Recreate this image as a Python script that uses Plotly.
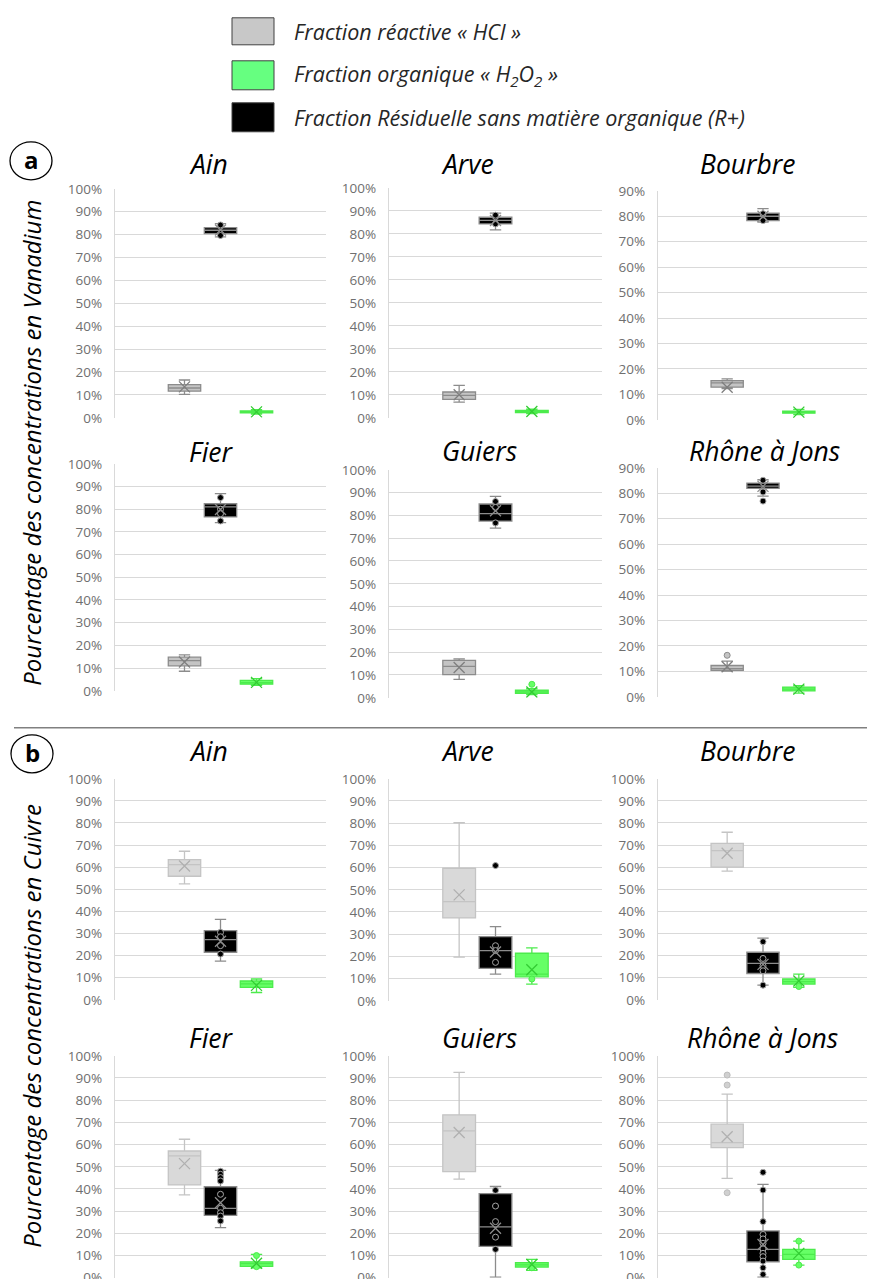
import plotly.graph_objects as go

# measured page mapping: window_y = SCALE * figure_y + TOP ; window_x = figure_x + LEFT
LEFT, TOP, SCALE = 8, 16.2, 0.986
W, H = 875 - LEFT, 1283

SITES = ["Ain", "Arve", "Bourbre", "Fier", "Guiers", "Rhône à Jons"]
CATS = ["HCl", "R+", "H2O2"]  # plotting order (left to right)

# ---------------- Vanadium ----------------
V_HCL = dict(low=[10.2, 6.8, 12.3, 8.6, 8.1, 10.1],
             q1=[11.6, 8.0, 12.8, 11.0, 10.2, 10.4],
             med=[13.0, 9.7, 14.5, 13.3, 13.8, 11.1],
             q3=[14.5, 11.2, 15.4, 14.8, 16.4, 12.3],
             high=[16.5, 14.1, 16.1, 15.8, 17.1, 14.0],
             mean=[13.5, 10.0, 12.8, 12.7, 13.3, 11.8])
V_HCL_PTS = [[], [], [], [], [], [16.3]]

V_RES = dict(low=[79.0, 81.7, 77.7, 74.1, 74.4, 78.9],
             q1=[80.4, 84.3, 78.3, 76.6, 77.5, 81.9],
             med=[81.9, 85.8, 80.0, 81.0, 80.8, 82.8],
             q3=[83.0, 87.2, 81.2, 82.4, 85.0, 84.0],
             high=[84.8, 89.0, 83.0, 86.9, 88.3, 85.3],
             mean=[82.0, 85.8, 80.0, 79.9, 82.0, 82.7])
V_RES_PTS = [[84.2, 79.6], [88.1, 84.3], [81.0, 78.3],
             [85.1, 80.0, 78.0, 74.8], [86.1, 83.5, 76.7], [85.1, 80.5, 76.9]]

V_ORG = dict(low=[1.6, 1.8, 2.0, 2.4, 1.4, 1.4],
             q1=[2.1, 2.3, 2.6, 2.9, 1.9, 2.3],
             med=[2.5, 2.7, 3.0, 3.6, 2.6, 3.0],
             q3=[3.0, 3.2, 3.4, 4.6, 3.3, 3.8],
             high=[3.6, 3.8, 4.1, 5.4, 4.0, 4.4],
             mean=[2.6, 2.7, 3.0, 3.7, 2.5, 3.0])
V_ORG_PTS = [[], [], [], [], [5.9], []]

# ---------------- Cuivre ----------------
C_HCL = dict(low=[52.4, 19.7, 58.2, 37.3, 44.4, 44.8],
             q1=[55.9, 37.3, 60.0, 41.8, 47.8, 58.6],
             med=[61.2, 44.7, 67.5, 54.9, 66.2, 60.9],
             q3=[63.4, 59.7, 70.8, 57.1, 73.4, 69.2],
             high=[67.2, 80.2, 75.8, 62.4, 92.5, 82.7],
             mean=[60.5, 47.7, 66.3, 51.4, 65.4, 63.5])
C_HCL_PTS = [[], [], [], [], [], [91.3, 86.8, 38.3]]

C_RES = dict(low=[17.5, 12.0, 6.6, 22.6, 0.3, 0.3],
             q1=[21.5, 14.6, 11.9, 28.1, 14.1, 7.2],
             med=[27.2, 22.6, 16.5, 31.3, 22.9, 12.8],
             q3=[31.3, 28.9, 21.5, 41.0, 37.9, 21.1],
             high=[36.4, 33.4, 27.9, 48.4, 41.1, 42.1],
             mean=[26.5, 22.0, 16.0, 33.8, 22.3, 15.0])
C_RES_PTS = [[30.5, 28.5, 24.5, 20.7],
             [60.9, 24.8, 22.6, 17.3],
             [26.3, 18.7, 15.4, 13.1, 6.6],
             [48.0, 46.6, 45.1, 43.6, 37.6, 31.3, 29.3, 27.8, 25.6],
             [39.4, 32.3, 25.3, 18.3, 12.8],
             [47.5, 39.5, 25.3, 19.5, 17.5, 15.5, 13.0, 11.0, 9.5, 7.5, 4.5, 1.5]]

C_ORG = dict(low=[3.3, 7.5, 5.6, 4.5, 3.3, 5.7],
             q1=[5.6, 10.8, 7.1, 5.1, 4.8, 8.3],
             med=[7.2, 12.0, 8.2, 6.4, 5.8, 10.5],
             q3=[8.5, 21.4, 9.4, 7.2, 6.8, 12.8],
             high=[9.4, 23.8, 11.6, 10.5, 8.3, 16.5],
             mean=[6.5, 14.0, 8.5, 6.5, 6.0, 11.0])
C_ORG_PTS = [[], [9.8], [6.0], [10.0, 5.0], [4.5], [16.5, 5.7]]

Y_MAX_V = [100, 100, 90, 100, 100, 90]
Y_MAX_C = [100, 100, 100, 100, 100, 100]

LEGEND_TEXT = ["Fraction réactive « HCl »",
               "Fraction organique « H<sub>2</sub>O<sub>2</sub> »",
               "Fraction Résiduelle sans matière organique (R+)"]
YTITLES = ["Pourcentage des concentrations en Vanadium",
           "Pourcentage des concentrations en Cuivre"]

# ---------------- styles ----------------
FONT = "Open Sans"
GREEN = "#66FF66"
STYLE_A = {
    "HCl": dict(fill="#C4C4C4", line="#8C8C8C", pfill="#C4C4C4", pline="#8C8C8C", mean="#7F7F7F"),
    "R+": dict(fill="#000000", line="#8C8C8C", pfill="#000000", pline="#A6A6A6", mean="#8C8C8C"),
    "H2O2": dict(fill=GREEN, line="#4CEB4C", pfill=GREEN, pline="#4CEB4C", mean="#33CC33"),
}
STYLE_B = {
    "HCl": dict(fill="#D9D9D9", line="#C4C4C4", pfill="#D0D0D0", pline="#BDBDBD", mean="#B0B0B0"),
    "R+": dict(fill="#000000", line="#8C8C8C", pfill="#000000", pline="#A6A6A6", mean="#8C8C8C"),
    "H2O2": dict(fill=GREEN, line="#4CEB4C", pfill=GREEN, pline="#4CEB4C", mean="#33CC33"),
}


def px(x):
    return (x - LEFT) / W


def py(y):
    fy = (y - TOP) / SCALE
    return 1 - fy / H


# panel geometry (target pixels in the window)
COLS_X = [(115, 326), (389, 602), (658, 868)]
ROWS_Y = [
    [(188, 417), (187, 417), (190, 419), (463, 690), (469, 697), (467, 696)],
    [(778, 999), (778, 1000), (778, 999), (1055, 1277), (1055, 1277), (1055, 1277)],
]
TITLE_POS = [
    [(208, 163), (467, 163), (748, 163), (211, 451), (479, 450), (764, 450)],
    [(208, 750), (467, 750), (748, 750), (211, 1037), (479, 1037), (762, 1037)],
]

fig = go.Figure()
layout = dict(width=W, height=H, margin=dict(l=0, r=0, t=0, b=0),
              plot_bgcolor="white", paper_bgcolor="white", showlegend=False)
annotations, shapes = [], []

groups = [
    ([("HCl", V_HCL, V_HCL_PTS), ("R+", V_RES, V_RES_PTS), ("H2O2", V_ORG, V_ORG_PTS)], Y_MAX_V, STYLE_A),
    ([("HCl", C_HCL, C_HCL_PTS), ("R+", C_RES, C_RES_PTS), ("H2O2", C_ORG, C_ORG_PTS)], Y_MAX_C, STYLE_B),
]

ax = 0
for g, (series, ymaxes, style) in enumerate(groups):
    for i, site in enumerate(SITES):
        ax += 1
        xa = "x" if ax == 1 else f"x{ax}"
        ya = "y" if ax == 1 else f"y{ax}"
        x0, x1 = COLS_X[i % 3]
        ytop, ybot = ROWS_Y[g][i]
        for cat, st, pts in series:
            s = style[cat]
            fig.add_trace(go.Box(
                x=[cat], q1=[st["q1"][i]], median=[st["med"][i]], q3=[st["q3"][i]],
                lowerfence=[st["low"][i]], upperfence=[st["high"][i]],
                fillcolor=s["fill"], line=dict(color=s["line"], width=1.3),
                whiskerwidth=0.35, width=0.9, boxpoints=False,
                xaxis=xa, yaxis=ya, hoverinfo="skip"))
            if pts[i]:
                fig.add_trace(go.Scatter(
                    x=[cat] * len(pts[i]), y=pts[i], mode="markers",
                    marker=dict(symbol="circle", size=6, color=s["pfill"],
                                line=dict(color=s["pline"], width=1)),
                    xaxis=xa, yaxis=ya, hoverinfo="skip"))
            fig.add_trace(go.Scatter(
                x=[cat], y=[st["mean"][i]], mode="markers",
                marker=dict(symbol="x-thin-open", size=11, color=s["mean"],
                            line=dict(color=s["mean"], width=1.3)),
                xaxis=xa, yaxis=ya, hoverinfo="skip"))
        layout[f"xaxis{'' if ax == 1 else ax}"] = dict(
            domain=[px(x0), px(x1)], anchor=ya, type="category",
            categoryorder="array", categoryarray=CATS, range=[-1.93, 3.93],
            showticklabels=False, showgrid=False, zeroline=False, showline=False)
        layout[f"yaxis{'' if ax == 1 else ax}"] = dict(
            domain=[py(ybot), py(ytop)], anchor=xa, range=[0, ymaxes[i]],
            dtick=10, ticksuffix="%", showgrid=True, gridcolor="#D9D9D9", gridwidth=1.3,
            zeroline=False, showline=True, linecolor="#D9D9D9", linewidth=1.3,
            ticks="", ticklabelstandoff=9,
            tickfont=dict(family=FONT, size=13.5, color="#6F6F6F"))
        tx, ty = TITLE_POS[g][i]
        annotations.append(dict(x=px(tx), y=py(ty), xref="paper", yref="paper",
                                text=f"<i>{site}</i>", showarrow=False,
                                font=dict(family=FONT, size=26.5, color="#000000"),
                                xanchor="center", yanchor="middle"))

# y-axis titles
for txt, yc in zip(YTITLES, [442, 1025]):
    annotations.append(dict(x=px(32), y=py(yc), xref="paper", yref="paper",
                            text=f"<i>{txt}</i>", showarrow=False, textangle=-90,
                            font=dict(family=FONT, size=24, color="#000000"),
                            xanchor="center", yanchor="middle"))

# panel letters in circles
for letter, (cx, cy) in zip(["a", "b"], [(31, 160), (32, 753)]):
    shapes.append(dict(type="circle", xref="paper", yref="paper",
                       x0=px(cx - 21), x1=px(cx + 21), y0=py(cy + 19), y1=py(cy - 19),
                       line=dict(color="#000000", width=1.3), fillcolor="white"))
    annotations.append(dict(x=px(cx), y=py(cy - 1), xref="paper", yref="paper",
                            text=f"<b>{letter}</b>", showarrow=False,
                            font=dict(family=FONT, size=24, color="#000000"),
                            xanchor="center", yanchor="middle"))

# separator
shapes.append(dict(type="line", xref="paper", yref="paper",
                   x0=px(14), x1=1, y0=py(727), y1=py(727),
                   line=dict(color="#808080", width=1.5)))

# legend
LEG_COLORS = ["#C8C8C8", "#66FF80", "#000000"]
for (txt, col, (ya0, ya1)) in zip(LEGEND_TEXT, LEG_COLORS, [(17, 44), (60, 89), (102, 131)]):
    shapes.append(dict(type="rect", xref="paper", yref="paper",
                       x0=px(232), x1=px(274), y0=py(ya1), y1=py(ya0),
                       fillcolor=col, line=dict(color="#404040", width=1)))
    annotations.append(dict(x=px(292), y=py((ya0 + ya1) / 2), xref="paper", yref="paper",
                            text=f"<i>{txt}</i>", showarrow=False,
                            font=dict(family=FONT, size=21.5, color="#262626"),
                            xanchor="left", yanchor="middle"))

layout["annotations"] = annotations
layout["shapes"] = shapes
fig.update_layout(**layout)
fig.write_html("out.html")
